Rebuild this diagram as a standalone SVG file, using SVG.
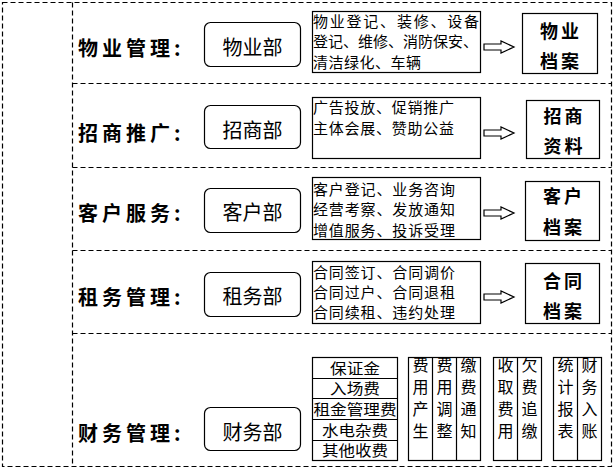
<svg xmlns="http://www.w3.org/2000/svg" width="614" height="470" viewBox="0 0 614 470">
<style>
.dash{fill:none;stroke:#000;stroke-width:1.2;stroke-dasharray:5,3}
.box{fill:#fff;stroke:#000;stroke-width:1.2}
.lbl{font-family:"Noto Sans CJK SC",sans-serif;font-size:20px;font-weight:bold;fill:#000;letter-spacing:4px}
.dept{font-family:"Noto Sans CJK SC",sans-serif;font-size:20px;fill:#000;text-anchor:middle}
.desc{font-family:"Noto Sans CJK SC",sans-serif;font-size:15px;fill:#000}
.res{font-family:"Noto Sans CJK SC",sans-serif;font-size:18px;font-weight:bold;fill:#000;text-anchor:middle;letter-spacing:3px}
.fin{font-family:"Noto Sans CJK SC",sans-serif;font-size:15px;fill:#000;text-anchor:middle}
.col{font-family:"Noto Sans CJK SC",sans-serif;font-size:16px;fill:#000;text-anchor:middle}
.arr{fill:#fff;stroke:#000;stroke-width:1.2}
</style>
<defs>
<polygon id="arrow" class="arr" points="0,-3 17,-3 17,-6 30,0 17,6 17,3 0,3"/>
</defs>
<rect width="614" height="470" fill="#fff"/>
<g id="frame">
<rect class="dash" x="2.5" y="2.5" width="609" height="464"/>
<line class="dash" x1="72.5" y1="2.5" x2="72.5" y2="466.5"/>
<line class="dash" x1="72.5" y1="83.5" x2="611.5" y2="83.5"/>
<line class="dash" x1="72.5" y1="167.5" x2="611.5" y2="167.5"/>
<line class="dash" x1="72.5" y1="250.5" x2="611.5" y2="250.5"/>
<line class="dash" x1="72.5" y1="333.5" x2="611.5" y2="333.5"/>
</g>
<g id="connectors">
<use href="#arrow" x="484" y="47"/>
<use href="#arrow" x="484" y="133"/>
<use href="#arrow" x="484" y="213"/>
<use href="#arrow" x="484" y="297"/>
</g>
<g id="row1">
<text class="lbl" x="78" y="56">物业管理:</text>
<g id="dept1"><rect class="box" x="204.5" y="22.5" width="96" height="44" rx="6"/><text class="dept" x="252.5" y="55">物业部</text></g>
<g id="desc1"><rect class="box" x="312.5" y="11.5" width="168" height="61"/>
<text class="desc" x="313" y="27" textLength="166" lengthAdjust="spacing">物业登记、装修、设备</text>
<text class="desc" x="313" y="47" textLength="165" lengthAdjust="spacing">登记、维修、消防保安、</text>
<text class="desc" x="313" y="68" textLength="108" lengthAdjust="spacing">清洁绿化、车辆</text></g>
<g id="res1"><rect class="box" x="522.5" y="13.5" width="75" height="60"/><text class="res" x="561" y="38">物业</text><text class="res" x="561" y="68">档案</text></g>
</g>
<g id="row2">
<text class="lbl" x="78" y="141">招商推广:</text>
<g id="dept2"><rect class="box" x="204.5" y="105.5" width="96" height="43" rx="6"/><text class="dept" x="252.5" y="138">招商部</text></g>
<g id="desc2"><rect class="box" x="312.5" y="97.5" width="168" height="61"/>
<text class="desc" x="313" y="113" textLength="141" lengthAdjust="spacing">广告投放、促销推广</text>
<text class="desc" x="313" y="134" textLength="141" lengthAdjust="spacing">主体会展、赞助公益</text></g>
<g id="res2"><rect class="box" x="526.5" y="100.5" width="73" height="58"/><text class="res" x="564.5" y="123">招商</text><text class="res" x="564.5" y="153">资料</text></g>
</g>
<g id="row3">
<text class="lbl" x="78" y="221">客户服务:</text>
<g id="dept3"><rect class="box" x="204.5" y="188.5" width="96" height="44" rx="6"/><text class="dept" x="252.5" y="220">客户部</text></g>
<g id="desc3"><rect class="box" x="312.5" y="177.5" width="168" height="62"/>
<text class="desc" x="313" y="195" textLength="142" lengthAdjust="spacing">客户登记、业务咨询</text>
<text class="desc" x="313" y="215" textLength="142" lengthAdjust="spacing">经营考察、发放通知</text>
<text class="desc" x="313" y="236" textLength="142" lengthAdjust="spacing">增值服务、投诉受理</text></g>
<g id="res3"><rect class="box" x="525.5" y="181.5" width="74" height="59"/><text class="res" x="564" y="203">客户</text><text class="res" x="564" y="234">档案</text></g>
</g>
<g id="row4">
<text class="lbl" x="78" y="305">租务管理:</text>
<g id="dept4"><rect class="box" x="204.5" y="272.5" width="96" height="44" rx="6"/><text class="dept" x="252.5" y="304">租务部</text></g>
<g id="desc4"><rect class="box" x="312.5" y="261.5" width="168" height="62"/>
<text class="desc" x="313" y="278" textLength="142" lengthAdjust="spacing">合同签订、合同调价</text>
<text class="desc" x="313" y="298" textLength="142" lengthAdjust="spacing">合同过户、合同退租</text>
<text class="desc" x="313" y="318" textLength="142" lengthAdjust="spacing">合同续租、违约处理</text></g>
<g id="res4"><rect class="box" x="525.5" y="263.5" width="74" height="60"/><text class="res" x="564" y="288">合同</text><text class="res" x="564" y="318">档案</text></g>
</g>
<g id="row5">
<text class="lbl" x="78" y="441">财务管理:</text>
<g id="dept5"><rect class="box" x="204.5" y="407.5" width="96" height="43" rx="6"/><text class="dept" x="252.5" y="440">财务部</text></g>
<g id="fees"><rect class="box" x="312.5" y="357.5" width="85" height="103"/>
<line class="box" x1="312.5" y1="378.5" x2="397.5" y2="378.5"/>
<line class="box" x1="312.5" y1="398.5" x2="397.5" y2="398.5"/>
<line class="box" x1="312.5" y1="419.5" x2="397.5" y2="419.5"/>
<line class="box" x1="312.5" y1="440.5" x2="397.5" y2="440.5"/>
<text class="fin" x="355" y="374" textLength="50" lengthAdjust="spacingAndGlyphs">保证金</text>
<text class="fin" x="355" y="394" textLength="50" lengthAdjust="spacingAndGlyphs">入场费</text>
<text class="fin" x="355" y="415" textLength="83" lengthAdjust="spacingAndGlyphs">租金管理费</text>
<text class="fin" x="355" y="436" textLength="66" lengthAdjust="spacingAndGlyphs">水电杂费</text>
<text class="fin" x="355" y="456" textLength="66" lengthAdjust="spacingAndGlyphs">其他收费</text></g>
<g id="cols1"><rect class="box" x="408.5" y="357.5" width="72" height="103"/>
<line class="box" x1="432.5" y1="357.5" x2="432.5" y2="460.5"/>
<line class="box" x1="456.5" y1="357.5" x2="456.5" y2="460.5"/>
<text class="col" x="420.5"><tspan x="420.5" y="371">费</tspan><tspan x="420.5" y="393">用</tspan><tspan x="420.5" y="415">产</tspan><tspan x="420.5" y="437">生</tspan></text>
<text class="col" x="444.5"><tspan x="444.5" y="371">费</tspan><tspan x="444.5" y="393">用</tspan><tspan x="444.5" y="415">调</tspan><tspan x="444.5" y="437">整</tspan></text>
<text class="col" x="468.5"><tspan x="468.5" y="371">缴</tspan><tspan x="468.5" y="393">费</tspan><tspan x="468.5" y="415">通</tspan><tspan x="468.5" y="437">知</tspan></text></g>
<g id="cols2"><rect class="box" x="493.5" y="357.5" width="48" height="103"/>
<line class="box" x1="517.5" y1="357.5" x2="517.5" y2="460.5"/>
<text class="col" x="505.5"><tspan x="505.5" y="371">收</tspan><tspan x="505.5" y="393">取</tspan><tspan x="505.5" y="415">费</tspan><tspan x="505.5" y="437">用</tspan></text>
<text class="col" x="529.5"><tspan x="529.5" y="371">欠</tspan><tspan x="529.5" y="393">费</tspan><tspan x="529.5" y="415">追</tspan><tspan x="529.5" y="437">缴</tspan></text></g>
<g id="cols3"><rect class="box" x="553.5" y="357.5" width="48" height="103"/>
<line class="box" x1="577.5" y1="357.5" x2="577.5" y2="460.5"/>
<text class="col" x="565.5"><tspan x="565.5" y="371">统</tspan><tspan x="565.5" y="393">计</tspan><tspan x="565.5" y="415">报</tspan><tspan x="565.5" y="437">表</tspan></text>
<text class="col" x="589.5"><tspan x="589.5" y="371">财</tspan><tspan x="589.5" y="393">务</tspan><tspan x="589.5" y="415">入</tspan><tspan x="589.5" y="437">账</tspan></text></g>
</g>
</svg>
